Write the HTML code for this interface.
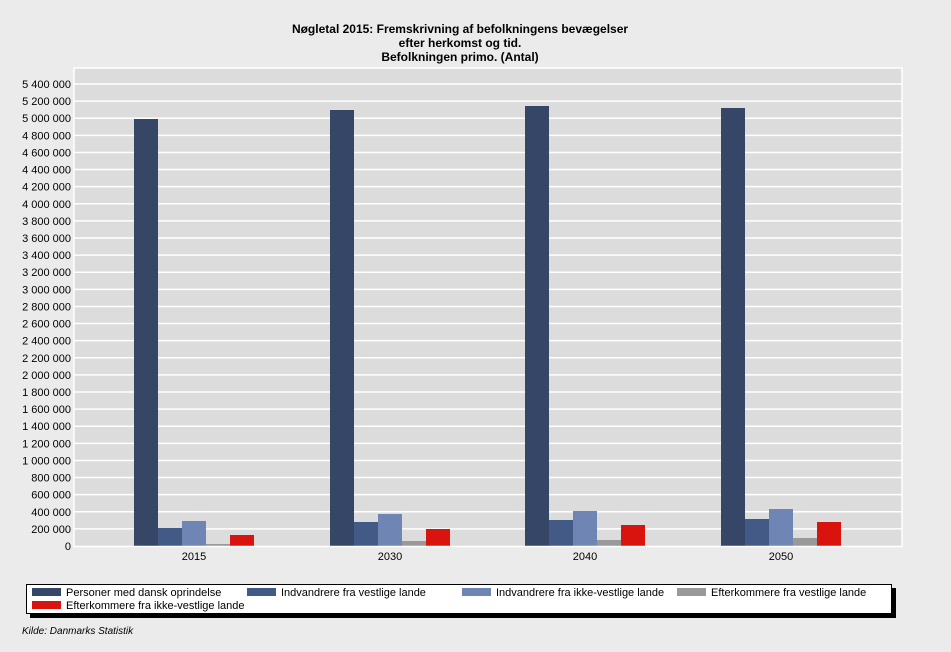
<!DOCTYPE html>
<html><head><meta charset="utf-8"><style>
html,body{margin:0;padding:0;background:#ebebeb;}
svg{display:block;font-family:"Liberation Sans",Arial,sans-serif;}
</style></head><body>
<svg width="951" height="652" viewBox="0 0 951 652" xmlns="http://www.w3.org/2000/svg">
<rect width="951" height="652" fill="#ebebeb"/>
<g font-size="12" font-weight="bold" text-anchor="middle" fill="#000">
<text x="460" y="33">Nøgletal 2015: Fremskrivning af befolkningens bevægelser</text>
<text x="460" y="47">efter herkomst og tid.</text>
<text x="460" y="61">Befolkningen primo. (Antal)</text>
</g>
<rect x="74" y="68" width="828" height="479" fill="#dcdcdc"/>
<line x1="74" y1="68" x2="902" y2="68" stroke="#fff" stroke-width="1.5"/>
<line x1="74" y1="68" x2="74" y2="547" stroke="#fff" stroke-width="1.5"/>
<line x1="902" y1="68" x2="902" y2="547" stroke="#fff" stroke-width="1.5"/>
<g id="grid" stroke="#fff" stroke-width="1.5"></g>
<g id="labels" font-size="11" text-anchor="end" fill="#000"></g>
<g id="bars"></g>
<line x1="74" y1="546.5" x2="902" y2="546.5" stroke="#fff" stroke-width="1.5"/>
<g font-size="11" text-anchor="middle" fill="#000">
<text x="194" y="560">2015</text>
<text x="390" y="560">2030</text>
<text x="585" y="560">2040</text>
<text x="781" y="560">2050</text>
</g>
<rect x="30" y="588" width="866" height="30" fill="#000"/>
<rect x="26.5" y="584.5" width="865" height="29" fill="#fff" stroke="#000" stroke-width="1"/>
<g font-size="11" fill="#000">
<rect x="32" y="588" width="29" height="8" fill="#364667"/><text x="66" y="596">Personer med dansk oprindelse</text>
<rect x="247" y="588" width="29" height="8" fill="#435a87"/><text x="281" y="596">Indvandrere fra vestlige lande</text>
<rect x="462" y="588" width="29" height="8" fill="#6f86b4"/><text x="496" y="596">Indvandrere fra ikke-vestlige lande</text>
<rect x="677" y="588" width="29" height="8" fill="#999999"/><text x="711" y="596">Efterkommere fra vestlige lande</text>
<rect x="32" y="601" width="29" height="8" fill="#d9140f"/><text x="66" y="609">Efterkommere fra ikke-vestlige lande</text>
</g>
<text x="22" y="634" font-size="10" font-style="italic" fill="#000">Kilde: Danmarks Statistik</text>
<script>
var ns="http://www.w3.org/2000/svg";
var g=document.getElementById("grid"),l=document.getElementById("labels"),b=document.getElementById("bars");
var step=462/27;
for(var i=0;i<=27;i++){var y=546-i*step;
 if(i>0){var ln=document.createElementNS(ns,"line");ln.setAttribute("x1",74);ln.setAttribute("x2",902);ln.setAttribute("y1",y);ln.setAttribute("y2",y);g.appendChild(ln);}
 var t=document.createElementNS(ns,"text");t.setAttribute("x",71);t.setAttribute("y",y+4);
 var v=i*200000,s=v.toString().replace(/\B(?=(\d{3})+(?!\d))/g," ");t.textContent=s;l.appendChild(t);}
var cols=["#364667","#435a87","#6f86b4","#999999","#d9140f"];
var starts=[134,330,525,721];
var tops=[[119,528,521,544,535],[110,522,514,541,529],[106,520,511,540,525],[108,519,509,538,522]];
for(var k=0;k<4;k++)for(var j=0;j<5;j++){var r=document.createElementNS(ns,"rect");
 r.setAttribute("x",starts[k]+j*24);r.setAttribute("y",tops[k][j]);r.setAttribute("width",24);r.setAttribute("height",546-tops[k][j]);r.setAttribute("fill",cols[j]);b.appendChild(r);}
</script>
</svg>
</body></html>
